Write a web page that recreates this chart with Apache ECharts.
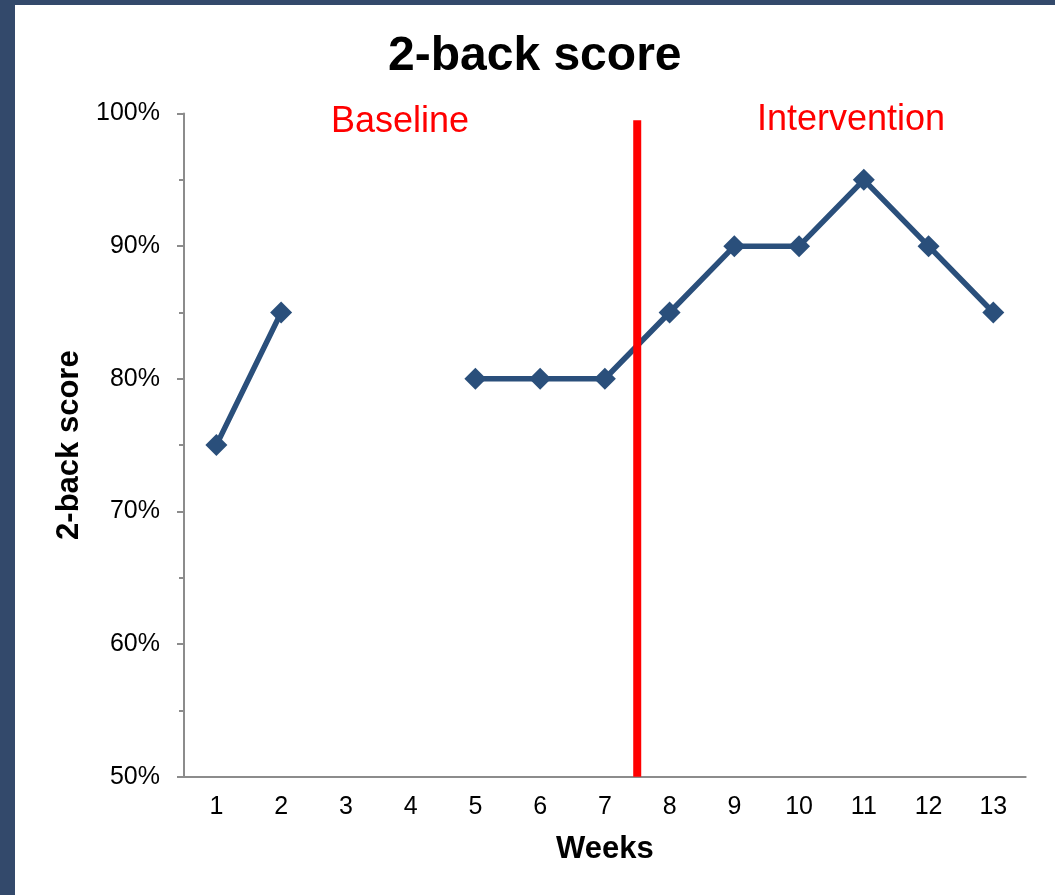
<!DOCTYPE html>
<html>
<head>
<meta charset="utf-8">
<title>2-back score</title>
<script src="https://cdn.jsdelivr.net/npm/echarts@6/dist/echarts.min.js"></script>
<style>
  html, body { margin: 0; padding: 0; background: #ffffff; }
  #chart { width: 1055px; height: 895px; }
</style>
</head>
<body>
<div id="chart"></div>
<script>
// Weekly 2-back scores (percent); weeks 3 and 4 were not measured
const weeks = ['1', '2', '3', '4', '5', '6', '7', '8', '9', '10', '11', '12', '13'];
const scores = [75, 85, null, null, 80, 80, 80, 85, 90, 90, 95, 90, 85];

// Phase change between week 7 and week 8 (on a 1-based week scale)
const phaseBoundary = 7.5;
const phaseLabels = ['Baseline', 'Intervention'];

const yMin = 50, yMax = 100, yStep = 10;

const FONT = 'Liberation Sans, Arial, Helvetica, sans-serif';
const AXIS_GRAY = '#8c8c8c';
const LINE_BLUE = '#2a4f7b';
const FRAME = '#33496b';

const chart = echarts.init(document.getElementById('chart'), null, { renderer: 'canvas' });

const grid = { left: 184, top: 113.5, right: 29.3, bottom: 118.3 };

chart.setOption({
  backgroundColor: '#ffffff',
  animation: false,
  textStyle: { fontFamily: FONT },
  title: {
    text: '2-back score',
    left: 383,
    top: 28,
    textStyle: { fontFamily: FONT, fontSize: 48, fontWeight: 'bold', color: '#000000' }
  },
  grid: grid,
  xAxis: [
    {
      type: 'category',
      data: weeks,
      boundaryGap: true,
      name: 'Weeks',
      nameLocation: 'middle',
      nameGap: 57,
      nameTextStyle: { fontFamily: FONT, fontSize: 31, fontWeight: 'bold', color: '#000000' },
      axisLine: { lineStyle: { color: AXIS_GRAY, width: 2 } },
      axisTick: { show: false },
      axisLabel: { fontFamily: FONT, fontSize: 25, color: '#000000', margin: 18 },
      splitLine: { show: false }
    },
    {
      // hidden numeric week scale used to place the phase divider between weeks
      type: 'value',
      min: 0.5,
      max: weeks.length + 0.5,
      show: false,
      position: 'bottom'
    }
  ],
  yAxis: {
    type: 'value',
    min: yMin,
    max: yMax,
    interval: yStep,
    name: '2-back score',
    nameLocation: 'middle',
    nameGap: 98,
    nameTextStyle: { fontFamily: FONT, fontSize: 31, fontWeight: 'bold', color: '#000000' },
    axisLine: { show: true, lineStyle: { color: AXIS_GRAY, width: 2 } },
    axisTick: { show: true, length: 7, lineStyle: { color: AXIS_GRAY, width: 2 } },
    minorTick: { show: true, splitNumber: 2, length: 5, lineStyle: { color: AXIS_GRAY, width: 2 } },
    axisLabel: { fontFamily: FONT, fontSize: 25, color: '#000000', margin: 24, formatter: '{value}%' },
    splitLine: { show: false }
  },
  series: [
    {
      name: '2-back score',
      type: 'line',
      xAxisIndex: 0,
      data: scores,
      connectNulls: false,
      symbol: 'diamond',
      symbolSize: 22,
      lineStyle: { color: LINE_BLUE, width: 5.5 },
      itemStyle: { color: LINE_BLUE },
      z: 3
    },
    {
      // red phase divider
      name: 'phase',
      type: 'line',
      xAxisIndex: 1,
      data: [[phaseBoundary, yMin], [phaseBoundary, 99.5]],
      symbol: 'none',
      lineStyle: { color: '#ff0000', width: 8, cap: 'butt' },
      silent: true,
      z: 4
    }
  ],
  graphic: [
    { type: 'rect', x: 0, y: 0, shape: { width: 1055, height: 5 }, style: { fill: FRAME }, z: 10 },
    { type: 'rect', x: 0, y: 0, shape: { width: 15, height: 895 }, style: { fill: FRAME }, z: 10 },
    {
      type: 'text', x: 400, y: 122, z: 10,
      style: { text: phaseLabels[0], align: 'center', verticalAlign: 'middle',
               font: '36px ' + FONT, fill: '#ff0000' }
    },
    {
      type: 'text', x: 851, y: 120, z: 10,
      style: { text: phaseLabels[1], align: 'center', verticalAlign: 'middle',
               font: '36px ' + FONT, fill: '#ff0000' }
    }
  ]
});
</script>
</body>
</html>
